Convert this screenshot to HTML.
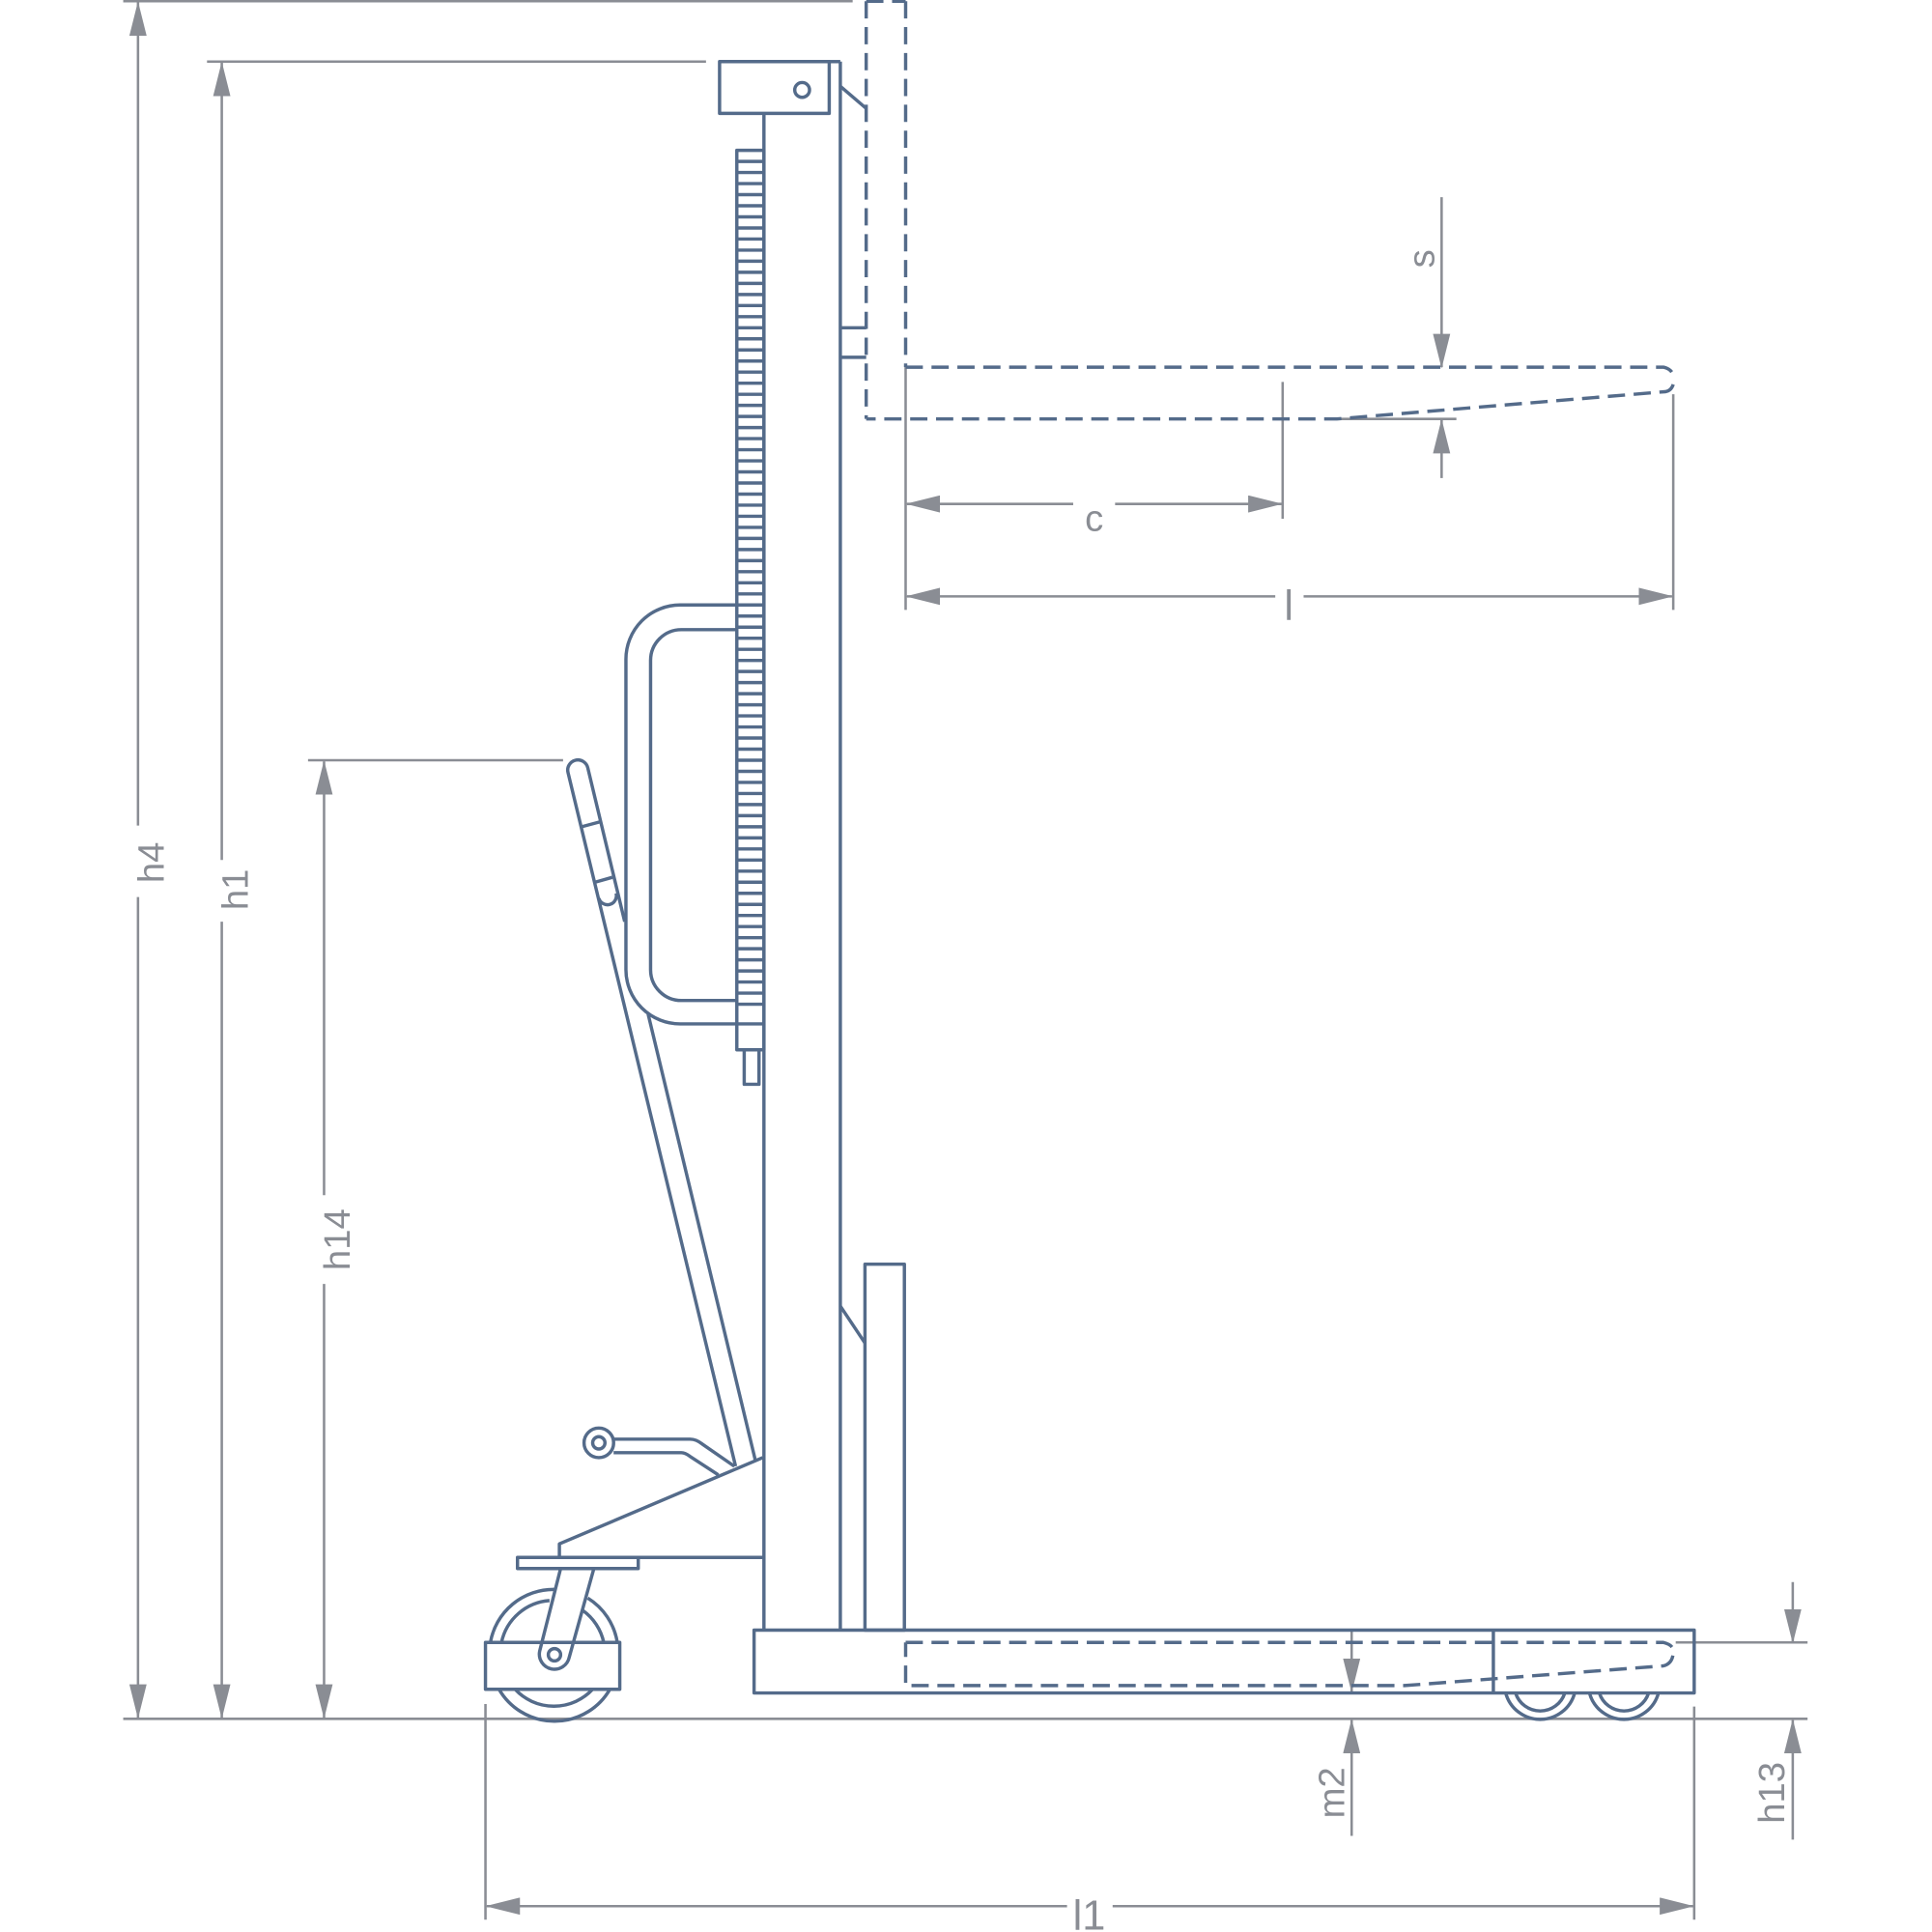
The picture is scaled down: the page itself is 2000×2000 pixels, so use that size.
<!DOCTYPE html>
<html><head><meta charset="utf-8"><style>html,body{margin:0;padding:0;background:#fff}svg{display:block}</style></head>
<body>
<svg width="2000" height="2000" viewBox="0 0 1568 1568" xmlns="http://www.w3.org/2000/svg">
<defs>
<marker id="a" viewBox="0 0 28 14" refX="27" refY="7" markerWidth="28" markerHeight="14" markerUnits="userSpaceOnUse" orient="auto"><path d="M0,0 L28,7 L0,14 Z" fill="#8a8d94"/></marker>
</defs>
<g stroke="#8a8d94" stroke-width="2" fill="none">
<line x1="100" y1="1" x2="692" y2="1"/>
<line x1="168" y1="50" x2="573" y2="50"/>
<line x1="250" y1="617" x2="457" y2="617"/>
<line x1="100" y1="1395" x2="1467" y2="1395"/>
<line x1="112" y1="670" x2="112" y2="2" marker-end="url(#a)"/>
<line x1="112" y1="728" x2="112" y2="1394" marker-end="url(#a)"/>
<line x1="180" y1="698" x2="180" y2="51" marker-end="url(#a)"/>
<line x1="180" y1="748" x2="180" y2="1394" marker-end="url(#a)"/>
<line x1="263" y1="970" x2="263" y2="618" marker-end="url(#a)"/>
<line x1="263" y1="1042" x2="263" y2="1394" marker-end="url(#a)"/>
<line x1="394" y1="1383" x2="394" y2="1558"/>
<line x1="1375" y1="1385" x2="1375" y2="1558"/>
<line x1="866" y1="1547" x2="395" y2="1547" marker-end="url(#a)"/>
<line x1="903" y1="1547" x2="1374" y2="1547" marker-end="url(#a)"/>
<line x1="1097" y1="1323" x2="1097" y2="1373" marker-end="url(#a)"/>
<line x1="1097" y1="1490" x2="1097" y2="1396" marker-end="url(#a)"/>
<line x1="1360" y1="1333" x2="1467" y2="1333"/>
<line x1="1455" y1="1284" x2="1455" y2="1333" marker-end="url(#a)"/>
<line x1="1455" y1="1493" x2="1455" y2="1396" marker-end="url(#a)"/>
<line x1="1170" y1="160" x2="1170" y2="298" marker-end="url(#a)"/>
<line x1="1170" y1="388" x2="1170" y2="341" marker-end="url(#a)"/>
<line x1="1080" y1="340" x2="1182" y2="340"/>
<line x1="735" y1="298" x2="735" y2="495"/>
<line x1="1041" y1="310" x2="1041" y2="421"/>
<line x1="1358" y1="320" x2="1358" y2="495"/>
<line x1="871" y1="409" x2="736" y2="409" marker-end="url(#a)"/>
<line x1="905" y1="409" x2="1040" y2="409" marker-end="url(#a)"/>
<line x1="1035" y1="484" x2="736" y2="484" marker-end="url(#a)"/>
<line x1="1058" y1="484" x2="1357" y2="484" marker-end="url(#a)"/>
</g>
<g fill="#8a8d94" font-family="Liberation Sans, sans-serif" font-size="30">
<text transform="translate(133,700) rotate(-90)" text-anchor="middle">h4</text>
<text transform="translate(201,722) rotate(-90)" text-anchor="middle">h1</text>
<text transform="translate(284,1006) rotate(-90)" text-anchor="middle">h14</text>
<text transform="translate(1091,1455) rotate(-90)" text-anchor="middle">m2</text>
<text transform="translate(1448,1455) rotate(-90)" text-anchor="middle">h13</text>
<text transform="translate(1164,210) rotate(-90)" text-anchor="middle">s</text>
<text x="888" y="431" text-anchor="middle">c</text>
<text x="1046" y="503" text-anchor="middle" font-size="34">l</text>
<text x="884" y="1566" text-anchor="middle" font-size="34">l1</text>
</g>
<g stroke="#546b8a" stroke-width="2.7" fill="none" stroke-linejoin="round">
<line x1="620" y1="92" x2="620" y2="1323"/>
<line x1="682" y1="50" x2="682" y2="1323"/>
<rect x="584" y="50" width="89" height="42"/>
<line x1="673" y1="50" x2="682" y2="50"/>
<circle cx="651" cy="73" r="6"/>
<line x1="682" y1="70" x2="703" y2="88"/>
<line x1="682" y1="266" x2="703" y2="266"/>
<line x1="682" y1="290" x2="703" y2="290"/>
<g stroke-dasharray="14,7">
<line x1="703" y1="1" x2="735" y2="1"/>
<line x1="703" y1="1" x2="703" y2="340"/>
<line x1="735" y1="1" x2="735" y2="298"/>
<path d="M735,298 L1350,298 Q1358,300 1358,306 M1358,312 Q1356,318 1350,318 L1085,340 L703,340"/>
<path d="M735,1333 L1350,1333 Q1358,1335 1358,1340 Q1358,1350 1350,1352 L1140,1368 L735,1368 L735,1333"/>
</g>
<rect x="598" y="122" width="22" height="730"/>
<path d="M598,131 H620 M598,140 H620 M598,149 H620 M598,158 H620 M598,167 H620 M598,176 H620 M598,185 H620 M598,194 H620 M598,203 H620 M598,212 H620 M598,221 H620 M598,230 H620 M598,239 H620 M598,248 H620 M598,257 H620 M598,266 H620 M598,275 H620 M598,284 H620 M598,293 H620 M598,302 H620 M598,311 H620 M598,320 H620 M598,329 H620 M598,338 H620 M598,347 H620 M598,356 H620 M598,365 H620 M598,374 H620 M598,383 H620 M598,392 H620 M598,401 H620 M598,410 H620 M598,419 H620 M598,428 H620 M598,437 H620 M598,446 H620 M598,455 H620 M598,464 H620 M598,473 H620 M598,482 H620 M598,491 H620 M598,500 H620 M598,509 H620 M598,518 H620 M598,527 H620 M598,536 H620 M598,545 H620 M598,554 H620 M598,563 H620 M598,572 H620 M598,581 H620 M598,590 H620 M598,599 H620 M598,608 H620 M598,617 H620 M598,626 H620 M598,635 H620 M598,644 H620 M598,653 H620 M598,662 H620 M598,671 H620 M598,680 H620 M598,689 H620 M598,698 H620 M598,707 H620 M598,716 H620 M598,725 H620 M598,734 H620 M598,743 H620 M598,752 H620 M598,761 H620 M598,770 H620 M598,779 H620 M598,788 H620 M598,797 H620 M598,806 H620 M598,815 H620 M598,831 H620"/>
<rect x="604" y="852" width="12" height="28"/>
<path d="M598,491 H552 A44,44 0 0 0 508,535 V787 A44,44 0 0 0 552,831 H598"/>
<path d="M598,511 H553 A25,25 0 0 0 528,536 V787 A25,25 0 0 0 553,812 H598"/>
<path d="M597,1190 L461,627 A8,8 0 0 1 477,623 L507,748"/>
<line x1="526" y1="823" x2="613" y2="1185"/>
<line x1="472" y1="671" x2="487" y2="667"/>
<line x1="483" y1="716" x2="497" y2="712"/>
<path d="M486,729 A7,7 0 0 0 500,725"/>
<circle cx="486" cy="1171" r="12"/>
<circle cx="486" cy="1171" r="5"/>
<path d="M498,1168 H560 Q565,1168 570,1172 L596,1190"/>
<path d="M498,1179 H553 Q556,1179 560,1182 L583,1197"/>
<path d="M619,1183 L454,1253 V1264 H620"/>
<rect x="420" y="1264" width="98" height="9"/>
<path d="M398,1333 A52,52 0 0 1 450,1290"/>
<path d="M407,1333 A43,43 0 0 1 446,1299"/>
<path d="M477,1297 A52,52 0 0 1 501,1333"/>
<path d="M473,1307 A43,43 0 0 1 490,1333"/>
<path d="M405,1371 A52,52 0 0 0 495,1371"/>
<path d="M418,1371 A43,43 0 0 0 481,1371"/>
<rect x="394" y="1333" width="109" height="38"/>
<path d="M455,1273 L438,1340 A12,12 0 0 0 462,1345 L482,1273"/>
<circle cx="450" cy="1343" r="5"/>
<rect x="612" y="1323" width="763" height="51"/>
<line x1="1212" y1="1323" x2="1212" y2="1374"/>
<path d="M1222,1374 A29,29 0 0 0 1278,1374"/>
<path d="M1230,1374 A21,21 0 0 0 1270,1374"/>
<path d="M1290,1374 A29,29 0 0 0 1346,1374"/>
<path d="M1298,1374 A21,21 0 0 0 1338,1374"/>
<rect x="702" y="1026" width="32" height="297"/>
<line x1="682" y1="1060" x2="702" y2="1090"/>
</g>
</svg>
</body></html>
